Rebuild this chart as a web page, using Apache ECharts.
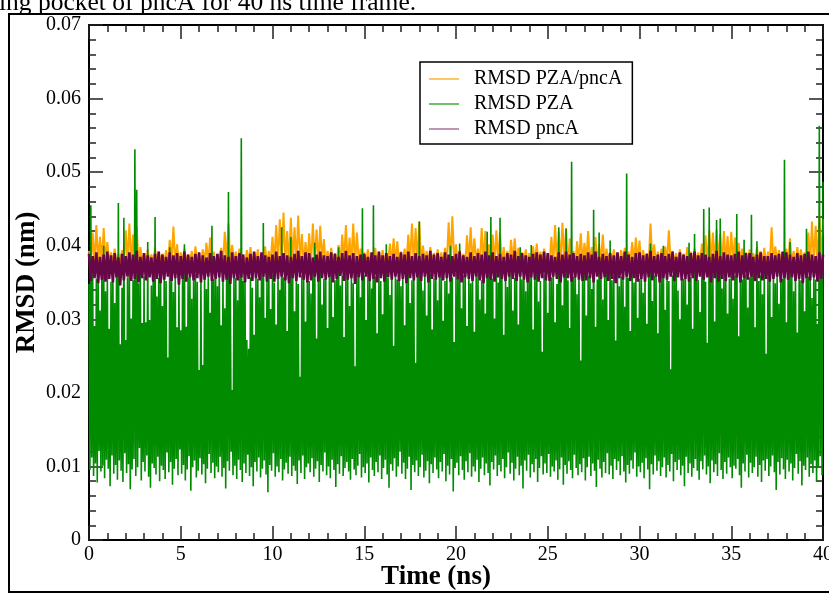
<!DOCTYPE html>
<html>
<head>
<meta charset="utf-8">
<title>RMSD PZA / pncA</title>
<script src="https://cdn.jsdelivr.net/npm/echarts@6/dist/echarts.min.js"></script>
<style>
  html, body { margin: 0; padding: 0; background: #fff; }
  #chart { width: 829px; height: 594px; }
</style>
</head>
<body>
<div id="chart"></div>
<script>
// Trajectory sampling (ns between stored frames)
const STEP_PZA = 0.05;
const STEP_COMPLEX = 0.1;
const STEP_PNCA = 0.1;

const SERIES_NAMES = ['RMSD PZA/pncA', 'RMSD PZA', 'RMSD pncA'];

// RMSD PZA/pncA complex (nm), one row per ns
const rmsdComplex = [
  0.0393,0.0376,0.0418,0.0374,0.0428,0.0377,0.0412,0.0373,0.0424,0.0378,
  0.0405,0.0375,0.0391,0.0377,0.0396,0.0374,0.0389,0.0376,0.0394,0.0373,
  0.0421,0.0377,0.0430,0.0375,0.0415,0.0378,0.0426,0.0374,0.0398,0.0376,
  0.0390,0.0373,0.0395,0.0377,0.0388,0.0375,0.0397,0.0374,0.0392,0.0378,
  0.0389,0.0376,0.0394,0.0373,0.0408,0.0377,0.0426,0.0375,0.0402,0.0374,
  0.0391,0.0378,0.0396,0.0375,0.0388,0.0377,0.0393,0.0373,0.0399,0.0376,
  0.0390,0.0374,0.0395,0.0377,0.0404,0.0375,0.0411,0.0378,0.0392,0.0373,
  0.0389,0.0376,0.0397,0.0374,0.0419,0.0377,0.0430,0.0375,0.0401,0.0378,
  0.0392,0.0373,0.0396,0.0376,0.0388,0.0374,0.0394,0.0377,0.0398,0.0375,
  0.0391,0.0378,0.0395,0.0373,0.0390,0.0376,0.0399,0.0374,0.0393,0.0377,
  0.0412,0.0375,0.0428,0.0378,0.0436,0.0374,0.0445,0.0376,0.0420,0.0373,
  0.0438,0.0377,0.0425,0.0375,0.0441,0.0378,0.0416,0.0374,0.0405,0.0376,
  0.0417,0.0373,0.0430,0.0377,0.0422,0.0375,0.0427,0.0378,0.0409,0.0374,
  0.0393,0.0376,0.0397,0.0373,0.0390,0.0377,0.0401,0.0375,0.0415,0.0378,
  0.0428,0.0374,0.0411,0.0376,0.0430,0.0373,0.0418,0.0377,0.0396,0.0375,
  0.0391,0.0378,0.0395,0.0374,0.0389,0.0376,0.0397,0.0373,0.0392,0.0377,
  0.0394,0.0375,0.0390,0.0378,0.0403,0.0374,0.0410,0.0376,0.0406,0.0373,
  0.0392,0.0377,0.0396,0.0375,0.0415,0.0378,0.0430,0.0374,0.0424,0.0376,
  0.0433,0.0373,0.0400,0.0377,0.0393,0.0375,0.0398,0.0378,0.0390,0.0374,
  0.0395,0.0376,0.0391,0.0373,0.0397,0.0377,0.0432,0.0375,0.0440,0.0378,
  0.0402,0.0374,0.0394,0.0376,0.0389,0.0373,0.0414,0.0377,0.0425,0.0375,
  0.0410,0.0378,0.0396,0.0374,0.0424,0.0376,0.0420,0.0373,0.0402,0.0377,
  0.0415,0.0375,0.0421,0.0378,0.0418,0.0374,0.0398,0.0376,0.0393,0.0373,
  0.0408,0.0377,0.0410,0.0375,0.0397,0.0378,0.0391,0.0374,0.0395,0.0376,
  0.0390,0.0373,0.0399,0.0377,0.0403,0.0375,0.0392,0.0378,0.0396,0.0374,
  0.0389,0.0376,0.0412,0.0373,0.0428,0.0377,0.0419,0.0375,0.0431,0.0378,
  0.0424,0.0374,0.0410,0.0376,0.0393,0.0373,0.0406,0.0377,0.0417,0.0375,
  0.0404,0.0378,0.0420,0.0374,0.0398,0.0376,0.0412,0.0373,0.0402,0.0377,
  0.0415,0.0375,0.0396,0.0378,0.0391,0.0374,0.0395,0.0376,0.0390,0.0373,
  0.0394,0.0377,0.0397,0.0375,0.0392,0.0378,0.0405,0.0374,0.0411,0.0376,
  0.0407,0.0373,0.0394,0.0377,0.0390,0.0375,0.0430,0.0378,0.0402,0.0374,
  0.0392,0.0376,0.0396,0.0373,0.0399,0.0377,0.0421,0.0375,0.0393,0.0378,
  0.0390,0.0374,0.0395,0.0376,0.0389,0.0373,0.0398,0.0377,0.0392,0.0375,
  0.0396,0.0378,0.0391,0.0374,0.0403,0.0376,0.0414,0.0373,0.0421,0.0377,
  0.0418,0.0375,0.0422,0.0378,0.0416,0.0374,0.0420,0.0376,0.0413,0.0373,
  0.0419,0.0377,0.0411,0.0375,0.0404,0.0378,0.0396,0.0374,0.0391,0.0376,
  0.0395,0.0373,0.0390,0.0377,0.0398,0.0375,0.0393,0.0378,0.0397,0.0374,
  0.0392,0.0376,0.0425,0.0373,0.0399,0.0377,0.0394,0.0375,0.0390,0.0378,
  0.0396,0.0374,0.0410,0.0376,0.0393,0.0373,0.0398,0.0377,0.0395,0.0375,
  0.0391,0.0378,0.0418,0.0374,0.0433,0.0376,0.0427,0.0373,0.0440,0.0377,
  0.0436
];

// RMSD PZA (nm), one row per ns
const rmsdPza = [
  0.0348,0.0095,0.0455,0.0112,0.0362,0.0087,0.0291,0.0104,0.0355,0.0078,0.0367,0.0121,0.0312,0.0093,0.0359,0.0101,0.0400,0.0084,0.0338,0.0109,
  0.0364,0.0097,0.0287,0.0073,0.0351,0.0115,0.0369,0.0090,0.0322,0.0102,0.0361,0.0082,0.0458,0.0108,0.0266,0.0094,0.0343,0.0079,0.0438,0.0118,
  0.0272,0.0091,0.0357,0.0103,0.0366,0.0069,0.0301,0.0096,0.0353,0.0110,0.0531,0.0087,0.0476,0.0099,0.0349,0.0125,0.0362,0.0081,0.0295,0.0106,
  0.0358,0.0093,0.0296,0.0115,0.0405,0.0086,0.0299,0.0071,0.0346,0.0104,0.0368,0.0098,0.0439,0.0089,0.0331,0.0113,0.0356,0.0080,0.0363,0.0101,
  0.0318,0.0095,0.0364,0.0083,0.0352,0.0119,0.0248,0.0092,0.0398,0.0106,0.0359,0.0075,0.0337,0.0097,0.0366,0.0110,0.0289,0.0088,0.0354,0.0123,
  0.0285,0.0090,0.0361,0.0102,0.0402,0.0081,0.0290,0.0096,0.0357,0.0114,0.0365,0.0067,0.0328,0.0099,0.0355,0.0108,0.0362,0.0085,0.0351,0.0094,
  0.0231,0.0111,0.0358,0.0089,0.0238,0.0103,0.0367,0.0077,0.0341,0.0097,0.0363,0.0117,0.0309,0.0091,0.0427,0.0105,0.0355,0.0084,0.0360,0.0100,
  0.0345,0.0092,0.0368,0.0113,0.0292,0.0086,0.0359,0.0098,0.0315,0.0070,0.0364,0.0107,0.0473,0.0094,0.0353,0.0120,0.0204,0.0088,0.0362,0.0101,
  0.0356,0.0083,0.0326,0.0109,0.0366,0.0095,0.0546,0.0079,0.0352,0.0104,0.0361,0.0091,0.0272,0.0116,0.0260,0.0087,0.0357,0.0099,0.0343,0.0073,
  0.0279,0.0106,0.0363,0.0093,0.0355,0.0112,0.0330,0.0085,0.0367,0.0097,0.0431,0.0108,0.0302,0.0089,0.0358,0.0065,0.0365,0.0102,0.0314,0.0094,
  0.0361,0.0118,0.0350,0.0086,0.0293,0.0100,0.0366,0.0092,0.0340,0.0110,0.0425,0.0081,0.0357,0.0096,0.0362,0.0105,0.0284,0.0090,0.0354,0.0113,
  0.0412,0.0087,0.0359,0.0101,0.0311,0.0094,0.0364,0.0076,0.0348,0.0108,0.0222,0.0091,0.0360,0.0115,0.0356,0.0083,0.0297,0.0099,0.0365,0.0104,
  0.0352,0.0092,0.0335,0.0111,0.0363,0.0086,0.0404,0.0097,0.0274,0.0107,0.0358,0.0079,0.0367,0.0102,0.0320,0.0093,0.0355,0.0119,0.0361,0.0088,
  0.0288,0.0100,0.0357,0.0084,0.0365,0.0109,0.0303,0.0095,0.0353,0.0072,0.0362,0.0103,0.0398,0.0090,0.0346,0.0114,0.0359,0.0087,0.0276,0.0098,
  0.0364,0.0106,0.0355,0.0093,0.0318,0.0082,0.0361,0.0110,0.0349,0.0096,0.0236,0.0088,0.0366,0.0101,0.0357,0.0117,0.0330,0.0085,0.0451,0.0099,
  0.0360,0.0091,0.0299,0.0104,0.0363,0.0078,0.0354,0.0112,0.0342,0.0095,0.0455,0.0087,0.0358,0.0106,0.0281,0.0092,0.0365,0.0115,0.0352,0.0083,
  0.0307,0.0098,0.0362,0.0109,0.0402,0.0089,0.0356,0.0071,0.0333,0.0103,0.0367,0.0094,0.0264,0.0111,0.0359,0.0086,0.0354,0.0100,0.0364,0.0120,
  0.0345,0.0090,0.0361,0.0105,0.0292,0.0083,0.0357,0.0097,0.0366,0.0113,0.0322,0.0068,0.0353,0.0102,0.0360,0.0092,0.0241,0.0108,0.0363,0.0087,
  0.0433,0.0099,0.0356,0.0116,0.0339,0.0085,0.0364,0.0094,0.0305,0.0107,0.0358,0.0077,0.0362,0.0103,0.0286,0.0091,0.0355,0.0112,0.0367,0.0096,
  0.0326,0.0084,0.0359,0.0106,0.0365,0.0093,0.0298,0.0117,0.0352,0.0080,0.0361,0.0101,0.0335,0.0089,0.0400,0.0110,0.0357,0.0066,0.0269,0.0098,
  0.0363,0.0105,0.0354,0.0088,0.0403,0.0114,0.0315,0.0095,0.0360,0.0082,0.0366,0.0107,0.0291,0.0092,0.0356,0.0118,0.0349,0.0086,0.0362,0.0100,
  0.0283,0.0093,0.0358,0.0109,0.0364,0.0079,0.0327,0.0097,0.0353,0.0112,0.0360,0.0088,0.0308,0.0104,0.0419,0.0091,0.0365,0.0074,0.0439,0.0106,
  0.0355,0.0096,0.0301,0.0115,0.0362,0.0087,0.0350,0.0102,0.0438,0.0093,0.0357,0.0110,0.0279,0.0084,0.0363,0.0099,0.0344,0.0119,0.0359,0.0090,
  0.0366,0.0105,0.0312,0.0081,0.0356,0.0097,0.0361,0.0113,0.0293,0.0088,0.0398,0.0101,0.0354,0.0070,0.0365,0.0108,0.0338,0.0094,0.0357,0.0116,
  0.0362,0.0085,0.0401,0.0103,0.0286,0.0092,0.0359,0.0110,0.0364,0.0079,0.0324,0.0098,0.0352,0.0114,0.0256,0.0089,0.0361,0.0104,0.0355,0.0091,
  0.0309,0.0117,0.0363,0.0086,0.0357,0.0100,0.0366,0.0093,0.0296,0.0108,0.0348,0.0082,0.0425,0.0096,0.0360,0.0112,0.0319,0.0075,0.0364,0.0102,
  0.0423,0.0090,0.0353,0.0107,0.0288,0.0095,0.0514,0.0084,0.0358,0.0116,0.0365,0.0098,0.0334,0.0088,0.0361,0.0103,0.0244,0.0092,0.0356,0.0111,
  0.0363,0.0081,0.0305,0.0099,0.0359,0.0113,0.0366,0.0087,0.0341,0.0104,0.0449,0.0094,0.0290,0.0072,0.0354,0.0109,0.0418,0.0097,0.0362,0.0085,
  0.0327,0.0106,0.0357,0.0091,0.0364,0.0118,0.0299,0.0089,0.0407,0.0101,0.0353,0.0083,0.0360,0.0110,0.0271,0.0095,0.0365,0.0107,0.0345,0.0088,
  0.0358,0.0114,0.0362,0.0093,0.0317,0.0078,0.0498,0.0102,0.0356,0.0090,0.0284,0.0108,0.0363,0.0097,0.0350,0.0119,0.0366,0.0086,0.0302,0.0100,
  0.0355,0.0092,0.0361,0.0105,0.0336,0.0084,0.0364,0.0111,0.0294,0.0096,0.0357,0.0069,0.0403,0.0103,0.0325,0.0089,0.0359,0.0115,0.0365,0.0094,
  0.0281,0.0107,0.0356,0.0087,0.0362,0.0099,0.0400,0.0112,0.0313,0.0085,0.0366,0.0102,0.0352,0.0093,0.0232,0.0117,0.0360,0.0080,0.0358,0.0106,
  0.0364,0.0095,0.0339,0.0109,0.0300,0.0088,0.0361,0.0101,0.0355,0.0073,0.0367,0.0113,0.0320,0.0091,0.0404,0.0104,0.0357,0.0086,0.0287,0.0098,
  0.0416,0.0110,0.0360,0.0094,0.0353,0.0082,0.0310,0.0107,0.0365,0.0096,0.0450,0.0115,0.0351,0.0089,0.0268,0.0100,0.0452,0.0077,0.0358,0.0108,
  0.0362,0.0092,0.0297,0.0103,0.0435,0.0087,0.0356,0.0118,0.0437,0.0095,0.0342,0.0083,0.0364,0.0106,0.0360,0.0090,0.0308,0.0112,0.0355,0.0099,
  0.0366,0.0084,0.0328,0.0101,0.0359,0.0097,0.0443,0.0110,0.0277,0.0088,0.0363,0.0071,0.0354,0.0104,0.0408,0.0093,0.0361,0.0116,0.0316,0.0085,
  0.0357,0.0105,0.0442,0.0091,0.0365,0.0099,0.0289,0.0113,0.0406,0.0086,0.0352,0.0102,0.0360,0.0079,0.0334,0.0108,0.0367,0.0094,0.0253,0.0110,
  0.0362,0.0087,0.0356,0.0100,0.0303,0.0115,0.0364,0.0092,0.0349,0.0068,0.0359,0.0106,0.0321,0.0089,0.0366,0.0111,0.0355,0.0096,0.0517,0.0083,
  0.0296,0.0109,0.0361,0.0093,0.0405,0.0104,0.0357,0.0081,0.0338,0.0098,0.0363,0.0117,0.0282,0.0090,0.0360,0.0107,0.0353,0.0074,0.0365,0.0101,
  0.0311,0.0095,0.0423,0.0112,0.0358,0.0086,0.0362,0.0103,0.0329,0.0091,0.0366,0.0108,0.0354,0.0079,0.0294,0.0100,0.0563,0.0114,0.0360,0.0088,
  0.0487
];

// RMSD pncA (nm), one row per ns
const rmsdPnca = [
  0.0389,0.0352,0.0386,0.0356,0.0391,0.0349,0.0385,0.0354,0.0388,0.0351,
  0.0392,0.0355,0.0387,0.0350,0.0390,0.0357,0.0384,0.0346,0.0389,0.0353,
  0.0386,0.0358,0.0391,0.0352,0.0388,0.0355,0.0393,0.0350,0.0385,0.0356,
  0.0390,0.0353,0.0387,0.0357,0.0384,0.0351,0.0389,0.0355,0.0392,0.0349,
  0.0388,0.0354,0.0385,0.0358,0.0391,0.0352,0.0387,0.0356,0.0390,0.0347,
  0.0386,0.0355,0.0392,0.0351,0.0388,0.0357,0.0385,0.0353,0.0389,0.0356,
  0.0391,0.0350,0.0387,0.0354,0.0384,0.0358,0.0390,0.0352,0.0386,0.0355,
  0.0389,0.0357,0.0393,0.0351,0.0387,0.0354,0.0385,0.0348,0.0391,0.0356,
  0.0386,0.0353,0.0390,0.0357,0.0388,0.0350,0.0384,0.0355,0.0389,0.0352,
  0.0392,0.0356,0.0386,0.0353,0.0391,0.0358,0.0387,0.0351,0.0385,0.0355,
  0.0388,0.0351,0.0392,0.0355,0.0386,0.0358,0.0390,0.0353,0.0387,0.0349,
  0.0385,0.0356,0.0389,0.0352,0.0393,0.0357,0.0386,0.0354,0.0391,0.0350,
  0.0390,0.0353,0.0384,0.0358,0.0388,0.0351,0.0392,0.0356,0.0387,0.0354,
  0.0386,0.0357,0.0391,0.0350,0.0389,0.0355,0.0385,0.0359,0.0390,0.0352,
  0.0393,0.0354,0.0387,0.0356,0.0390,0.0348,0.0386,0.0357,0.0388,0.0353,
  0.0389,0.0358,0.0385,0.0352,0.0391,0.0355,0.0387,0.0350,0.0392,0.0356,
  0.0387,0.0351,0.0390,0.0357,0.0386,0.0354,0.0389,0.0358,0.0385,0.0352,
  0.0391,0.0355,0.0388,0.0349,0.0392,0.0356,0.0386,0.0353,0.0390,0.0357,
  0.0386,0.0352,0.0389,0.0358,0.0387,0.0350,0.0393,0.0355,0.0388,0.0354,
  0.0390,0.0357,0.0385,0.0353,0.0391,0.0356,0.0388,0.0351,0.0386,0.0358,
  0.0389,0.0354,0.0392,0.0350,0.0387,0.0357,0.0385,0.0355,0.0391,0.0352,
  0.0386,0.0358,0.0390,0.0353,0.0388,0.0349,0.0392,0.0356,0.0387,0.0354,
  0.0391,0.0351,0.0386,0.0357,0.0389,0.0355,0.0385,0.0352,0.0390,0.0358,
  0.0388,0.0355,0.0393,0.0352,0.0386,0.0358,0.0390,0.0354,0.0387,0.0350,
  0.0385,0.0357,0.0389,0.0354,0.0391,0.0351,0.0388,0.0356,0.0392,0.0353,
  0.0390,0.0352,0.0387,0.0358,0.0385,0.0355,0.0391,0.0350,0.0388,0.0357,
  0.0392,0.0356,0.0388,0.0351,0.0390,0.0357,0.0386,0.0354,0.0389,0.0352,
  0.0387,0.0353,0.0391,0.0356,0.0388,0.0350,0.0392,0.0358,0.0385,0.0355,
  0.0389,0.0357,0.0386,0.0352,0.0390,0.0355,0.0387,0.0349,0.0391,0.0356,
  0.0386,0.0354,0.0392,0.0358,0.0388,0.0352,0.0385,0.0356,0.0390,0.0351,
  0.0391,0.0355,0.0387,0.0351,0.0389,0.0357,0.0393,0.0353,0.0386,0.0358,
  0.0388,0.0350,0.0390,0.0356,0.0386,0.0354,0.0389,0.0358,0.0392,0.0352,
  0.0385,0.0357,0.0391,0.0353,0.0388,0.0355,0.0386,0.0351,0.0390,0.0356,
  0.0392,0.0352,0.0387,0.0358,0.0390,0.0354,0.0388,0.0357,0.0385,0.0350,
  0.0389,0.0356,0.0393,0.0351,0.0386,0.0355,0.0391,0.0352,0.0388,0.0357,
  0.0387,0.0353,0.0389,0.0357,0.0392,0.0350,0.0387,0.0356,0.0390,0.0354,
  0.0390,0.0358,0.0385,0.0352,0.0388,0.0356,0.0391,0.0353,0.0386,0.0355,
  0.0386,0.0351,0.0390,0.0355,0.0387,0.0358,0.0389,0.0350,0.0392,0.0356,
  0.0391,0.0354,0.0388,0.0357,0.0385,0.0352,0.0390,0.0355,0.0387,0.0349,
  0.0389,0.0356,0.0392,0.0353,0.0388,0.0357,0.0386,0.0351,0.0391,0.0355,
  0.0388
];

// Pair each stored value with its frame time
function withTime(values, step) {
  return values.map((v, i) => [+(i * step).toFixed(3), v]);
}

const SERIF = '"Liberation Serif", "Times New Roman", serif';
const TICK_COLOR = '#222';

function axisCommon(showLabels) {
  return {
    axisLine: { show: true, onZero: false, lineStyle: { color: '#000', width: 2 } },
    axisTick: { show: true, inside: true, length: 14, lineStyle: { color: TICK_COLOR, width: 1.5 } },
    minorTick: { show: true, splitNumber: 5, length: 7, lineStyle: { color: TICK_COLOR, width: 1.5 } },
    splitLine: { show: false },
    minorSplitLine: { show: false },
    axisLabel: { show: showLabels, fontFamily: SERIF, fontSize: 20, color: '#000' }
  };
}

const chart = echarts.init(document.getElementById('chart'), null, { renderer: 'canvas' });

const xBottom = Object.assign(axisCommon(true), {
  type: 'value', position: 'bottom', min: 0, max: 40, interval: 5,
  name: 'Time (ns)', nameLocation: 'middle', nameGap: 24, nameMoveOverlap: false,
  nameTextStyle: { fontFamily: SERIF, fontWeight: 'bold', fontSize: 27, color: '#000', padding: [0, 40, 0, 0] }
});
xBottom.axisLabel.margin = 5;
xBottom.axisLabel.showMaxLabel = true;
xBottom.axisLabel.alignMaxLabel = 'center';

const xTop = Object.assign(axisCommon(false), {
  type: 'value', position: 'top', min: 0, max: 40, interval: 5
});

const yLeft = Object.assign(axisCommon(true), {
  type: 'value', position: 'left', min: 0, max: 0.07, interval: 0.01,
  name: 'RMSD (nm)', nameLocation: 'middle', nameGap: 48, nameRotate: 90, nameMoveOverlap: false,
  nameTextStyle: { fontFamily: SERIF, fontWeight: 'bold', fontSize: 27, color: '#000' }
});
yLeft.axisLabel.margin = 8;
yLeft.axisLabel.formatter = v => (v === 0 ? '0' : v.toFixed(2));

const yRight = Object.assign(axisCommon(false), {
  type: 'value', position: 'right', min: 0, max: 0.07, interval: 0.01
});

chart.setOption({
  animation: false,
  backgroundColor: '#fff',
  grid: { left: 89, right: 6, top: 25, bottom: 54, containLabel: false, outerBoundsMode: 'none' },
  xAxis: [xBottom, xTop],
  yAxis: [yLeft, yRight],
  legend: {
    orient: 'vertical',
    left: 420, top: 62,
    padding: [7, 10, 5, 9],
    itemGap: 5,
    itemWidth: 30, itemHeight: 1.5,
    icon: 'rect',
    selectedMode: false,
    backgroundColor: '#fff',
    borderColor: '#000', borderWidth: 1.5, borderRadius: 0,
    textStyle: { fontFamily: SERIF, fontSize: 20, color: '#000', lineHeight: 19, padding: [0, 0, 0, 10] },
    data: [
      { name: SERIES_NAMES[0], itemStyle: { color: '#ffb52e' } },
      { name: SERIES_NAMES[1], itemStyle: { color: '#3aae3a' } },
      { name: SERIES_NAMES[2], itemStyle: { color: '#a9739d' } }
    ]
  },
  graphic: [
    {
      type: 'rect', silent: true, z: 100,
      shape: { x: 9, y: 14, width: 840, height: 578 },
      style: { fill: 'none', stroke: '#000', lineWidth: 2 }
    },
    {
      type: 'text', silent: true, x: -1, y: 3,
      style: {
        text: 'ing pocket of pncA for 40 ns time frame.',
        font: '25.5px "Liberation Serif"', fill: '#000', verticalAlign: 'middle'
      }
    }
  ],
  series: [
    {
      name: SERIES_NAMES[0], type: 'line', xAxisIndex: 0, yAxisIndex: 0,
      data: withTime(rmsdComplex, STEP_COMPLEX),
      symbol: 'none', showSymbol: false, silent: true,
      color: '#ffa500',
      lineStyle: { color: '#ffa500', width: 2 }
    },
    {
      name: SERIES_NAMES[1], type: 'line', xAxisIndex: 0, yAxisIndex: 0,
      data: withTime(rmsdPza, STEP_PZA),
      symbol: 'none', showSymbol: false, silent: true,
      color: '#008b00',
      lineStyle: { color: '#008b00', width: 1.6 }
    },
    {
      name: SERIES_NAMES[2], type: 'line', xAxisIndex: 0, yAxisIndex: 0,
      data: withTime(rmsdPnca, STEP_PNCA),
      symbol: 'none', showSymbol: false, silent: true,
      color: '#670748',
      lineStyle: { color: '#670748', width: 2.6 }
    }
  ]
});
</script>
</body>
</html>
